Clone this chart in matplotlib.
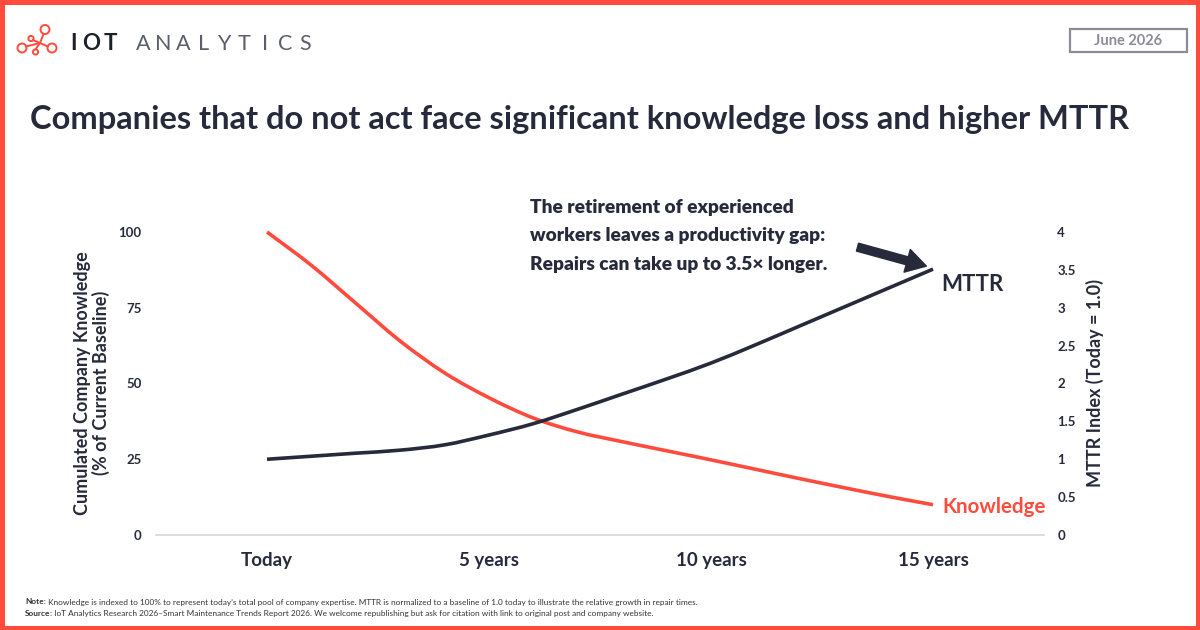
import matplotlib
matplotlib.use("Agg")
import matplotlib.pyplot as plt
from matplotlib.patches import Rectangle, Circle, PathPatch
from matplotlib.path import Path
import numpy as np

# ---- data (one point per year) ----
years = list(range(16))
knowledge = [100, 89, 76.5, 64, 53.5, 45.3, 38.6, 34.0, 30.8, 27.8,
             24.8, 21.7, 18.6, 15.6, 12.7, 10.0]
mttr = [1.00, 1.04, 1.08, 1.12, 1.19, 1.32, 1.47, 1.66, 1.86, 2.06,
        2.27, 2.51, 2.76, 3.01, 3.26, 3.51]
cat_pos = [0, 5, 10, 15]
cat_labels = ["Today", "5 years", "10 years", "15 years"]
left_ticks = [0, 25, 50, 75, 100]
right_ticks = [0, 0.5, 1, 1.5, 2, 2.5, 3, 3.5, 4]
right_tick_labels = ["0", "0.5", "1", "1.5", "2", "2.5", "3", "3.5", "4"]

title = "Companies that do not act face significant knowledge loss and higher MTTR"
callout = ["The retirement of experienced",
           "workers leaves a productivity gap:",
           "Repairs can take up to 3.5\u00d7 longer."]
note_lines = [("Note:", " Knowledge is indexed to 100% to represent today\u2019s total pool of company "
               "expertise. MTTR is normalized to a baseline of 1.0 today to illustrate the relative "
               "growth in repair times."),
              ("Source", ": IoT Analytics Research 2026\u2013Smart Maintenance Trends Report 2026. "
               "We welcome republishing but ask for citation with link to original post and company website.")]

RED = "#ff4b3e"
NAVY = "#262a3b"
GREY = "#8c8c99"

plt.rcParams["font.family"] = ["Lato", "DejaVu Sans"]

W, H = 1200, 630
fig = plt.figure(figsize=(W / 100, H / 100), dpi=100)
fig.patch.set_facecolor("white")


def px(x, y):
    return x / W, 1 - y / H


def smooth_path(xs, ys):
    # Excel style smoothed line: bezier segments through every data point
    p = np.column_stack([xs, ys]).astype(float)
    ext = np.vstack([p[0], p, p[-1]])
    verts = [p[0]]
    codes = [Path.MOVETO]
    for i in range(len(p) - 1):
        c1 = ext[i + 1] + (ext[i + 2] - ext[i]) / 6
        c2 = ext[i + 2] - (ext[i + 3] - ext[i + 1]) / 6
        verts += [c1, c2, p[i + 1]]
        codes += [Path.CURVE4] * 3
    return Path(verts, codes)


# overlay for decorations, pixel coords
ov = fig.add_axes([0, 0, 1, 1], zorder=0)
ov.set_xlim(0, W)
ov.set_ylim(H, 0)
ov.axis("off")
ov.add_patch(Rectangle((0, 0), W, H, fill=False, ec=RED, lw=6.5))

# logo
for cx, cy, r in [(45, 29.5, 4.5), (31, 38.5, 2.6), (22, 48, 4.5), (35.5, 52, 2.6), (52, 48, 4.5)]:
    ov.add_patch(Circle((cx, cy), r, fill=False, ec=RED, lw=1.4))
for x0, y0, x1, y1 in [(43.5, 34, 40, 43), (40, 43, 26, 46.5), (40, 43, 47.8, 46.5),
                       (40, 43, 35.5, 49.4), (40, 43, 33, 40)]:
    ov.plot([x0, x1], [y0, y1], color=RED, lw=1.4, solid_capstyle="round")
for i, ch in enumerate("IOT"):
    fig.text(*px([74, 91, 110.5][i], 43.5), ch, fontsize=16, fontweight="bold", color="#1d1f2b",
             va="center", ha="center")
for i, ch in enumerate("ANALYTICS"):
    fig.text(*px(143 + 20.3 * i, 43.5), ch, fontsize=15.5, color="#5a5e6a",
             va="center", ha="center")

# date box
ov.add_patch(Rectangle((1070, 29), 117, 23, fill=False, ec=GREY, lw=1.6))
fig.text(*px(1128.5, 41), "June 2026", fontsize=10.5, fontweight="bold", color=GREY,
         ha="center", va="center")

renderer = fig.canvas.get_renderer()


def fit_width(t, target):
    w = t.get_window_extent(renderer).width
    t.set_fontsize(t.get_fontsize() * target / w)


t = fig.text(*px(30, 119), title, fontsize=22, fontweight="bold", color=NAVY, va="center")
fit_width(t, 1098)

# ---- chart ----
ax = fig.add_axes([156 / W, 1 - 535 / H, 888 / W, (535 - 232) / H], zorder=2)
ax.patch.set_alpha(0)
ax.set_xlim(-2.5, 17.5)
ax.set_ylim(0, 100)
ax2 = ax.twinx()
ax2.set_ylim(0, 4)

for a in (ax, ax2):
    for s in a.spines.values():
        s.set_visible(False)
ax.spines["bottom"].set_visible(True)
ax.spines["bottom"].set_color("#d9d9d9")
ax.spines["bottom"].set_linewidth(1.2)

ax.add_patch(PathPatch(smooth_path(years, knowledge), fill=False, ec=RED, lw=2.6,
                       capstyle="butt", clip_on=False))
ax2.add_patch(PathPatch(smooth_path(years, mttr), fill=False, ec=NAVY, lw=2.6,
                        capstyle="butt", clip_on=False))

ax.set_xticks(cat_pos, cat_labels)
ax.set_yticks(left_ticks)
ax2.set_yticks(right_ticks, right_tick_labels)
ax.tick_params(axis="x", length=0, pad=12, labelsize=13.5, labelcolor=NAVY)
ax.tick_params(axis="y", length=0, pad=10.5, labelsize=9.5, labelcolor=NAVY)
ax2.tick_params(axis="y", length=0, pad=9.5, labelsize=9.5, labelcolor=NAVY)
for lab in ax.get_xticklabels() + ax.get_yticklabels() + ax2.get_yticklabels():
    lab.set_fontweight("bold")

fig.text(*px(92, 383), "Cumulated Company Knowledge\n(% of Current Baseline)", rotation=90,
         fontsize=13, fontweight="bold", color=NAVY, ha="center", va="center",
         multialignment="center", linespacing=1.1)
fig.text(*px(1095, 383), "MTTR Index (Today = 1.0)", rotation=90, fontsize=13,
         fontweight="bold", color=NAVY, ha="center", va="center")

ax2.annotate("MTTR", xy=(years[-1], mttr[-1]), xytext=(6, -11), textcoords="offset points",
             fontsize=16, fontweight="bold", color=NAVY, ha="left", va="center")
ax.annotate("Knowledge", xy=(years[-1], knowledge[-1]), xytext=(6.5, -2), textcoords="offset points",
            fontsize=14.8, fontweight="bold", color=RED, ha="left", va="center")

# callout
for i, line in enumerate(callout):
    fig.text(*px(530, 208 + 28 * i), line, fontsize=13.8, fontweight="heavy", color=NAVY,
             va="center")
ax2.annotate("", xy=(14.85, 3.55), xytext=(13.3, 3.8),
             arrowprops=dict(arrowstyle="simple,head_width=1.3,head_length=1.1,tail_width=0.45",
                             mutation_scale=13, color=NAVY, shrinkA=0, shrinkB=0))

# footnote
for i, (bold, rest) in enumerate(note_lines):
    yy = 602 + 11.5 * i
    tb = fig.text(*px(25, yy), bold, fontsize=6.5, fontweight="bold", color="#333333", va="center")
    bb = tb.get_window_extent(renderer)
    tr = fig.text(bb.x1 / W, 1 - yy / H, rest, fontsize=6.5, color="#333333", va="center")
    if i == 0:
        w = tr.get_window_extent(renderer).x1 - bb.x0
        note_scale = (688 - 25) / w
    tb.set_fontsize(6.5 * note_scale)
    bb = tb.get_window_extent(renderer)
    tr.set_fontsize(6.5 * note_scale)
    tr.set_x(bb.x1 / W)

fig.savefig("out.png", dpi=100, facecolor="white")
